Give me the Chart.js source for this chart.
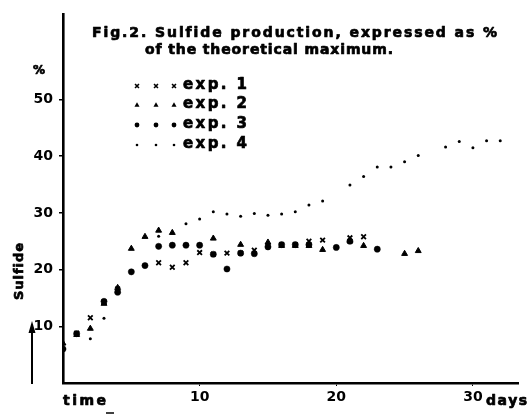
<!DOCTYPE html>
<html>
<head>
<meta charset="utf-8">
<title>Fig.2 Sulfide production</title>
<script src="https://cdn.jsdelivr.net/npm/chart.js@4.4.1/dist/chart.umd.min.js"></script>
<style>
  html, body { margin: 0; padding: 0; background: #fff; }
</style>
</head>
<body>
<canvas id="chart" width="530" height="414"></canvas>
<script>
// values (day, % of theoretical maximum)
var exp1Days = [1, 2, 3, 4, 7, 8, 9, 10, 11, 12, 13, 14, 15, 16, 17, 18, 19, 21, 22];
var exp1Values = [8.8, 11.5, 14.3, 16.6, 21.2, 20.4, 21.2, 23.0, 22.7, 22.9, 22.9, 23.4, 24.2, 24.4, 24.4, 25.0, 25.2, 25.6, 25.8];

var exp2Days = [0, 1, 2, 3, 4, 5, 6, 7, 8, 11, 13, 15, 16, 17, 18, 19, 21, 22, 25, 26];
var exp2Values = [7.0, 8.5, 9.6, 14.0, 16.8, 23.7, 25.8, 26.9, 26.5, 25.5, 24.4, 24.8, 24.2, 24.2, 24.2, 23.5, 25.0, 24.2, 22.8, 23.3];

var exp3Days = [0, 1, 3, 4, 5, 6, 7, 8, 9, 10, 11, 12, 13, 14, 15, 16, 17, 18, 20, 21, 23];
var exp3Values = [6.0, 8.7, 14.4, 16.0, 19.6, 20.7, 24.1, 24.3, 24.3, 24.3, 22.7, 20.1, 22.9, 22.8, 24.0, 24.4, 24.4, 24.4, 23.9, 25.0, 23.6];

var exp4Days = [2, 3, 7, 9, 10, 11, 12, 13, 14, 15, 16, 17, 18, 19, 21, 22, 23, 24, 25, 26, 28, 29, 30, 31, 32];
var exp4Values = [7.8, 11.4, 25.9, 28.1, 28.9, 30.2, 29.8, 29.4, 29.9, 29.6, 29.8, 30.2, 31.4, 32.1, 34.9, 36.4, 38.1, 38.1, 39.0, 40.1, 41.6, 42.6, 41.5, 42.7, 42.7];

var seriesNames = ['exp. 1', 'exp. 2', 'exp. 3', 'exp. 4'];
var xTickLabels = [10, 20, 30];
var yTickLabels = [10, 20, 30, 40, 50];

var FONT = '"DejaVu Sans", "Liberation Sans", sans-serif';

function toPoints(days, values) {
  var pts = [];
  for (var i = 0; i < days.length; i++) {
    pts.push({ x: days[i], y: values[i] });
  }
  return pts;
}

// draws text char by char so it fills a given width (the old typewriter spacing)
function spacedText(ctx, text, x, y, width, font) {
  ctx.font = font;
  var total = 0;
  for (var i = 0; i < text.length; i++) {
    total += ctx.measureText(text[i]).width;
  }
  var gap = text.length > 1 ? (width - total) / (text.length - 1) : 0;
  var cx = x;
  ctx.lineWidth = 0.7;
  ctx.lineJoin = 'round';
  for (var j = 0; j < text.length; j++) {
    ctx.fillText(text[j], cx, y);
    ctx.strokeText(text[j], cx, y); // heavier ink
    cx += ctx.measureText(text[j]).width + gap;
  }
}

function drawMarker(ctx, style, x, y, r) {
  ctx.beginPath();
  if (style === 'crossRot') {
    ctx.lineWidth = 1.6;
    ctx.moveTo(x - r * 0.7, y - r * 0.7);
    ctx.lineTo(x + r * 0.7, y + r * 0.7);
    ctx.moveTo(x + r * 0.7, y - r * 0.7);
    ctx.lineTo(x - r * 0.7, y + r * 0.7);
    ctx.stroke();
  } else if (style === 'triangle') {
    ctx.moveTo(x, y - r);
    ctx.lineTo(x + r * 0.9, y + r * 0.6);
    ctx.lineTo(x - r * 0.9, y + r * 0.6);
    ctx.closePath();
    ctx.fill();
  } else {
    ctx.arc(x, y, r, 0, Math.PI * 2);
    ctx.fill();
  }
}

var legendStyles = [['crossRot', 2.8], ['triangle', 2.8], ['circle', 2.4], ['circle', 1.3]];

var paperText = {
  id: 'paperText',
  afterDraw: function(chart) {
    var ctx = chart.ctx;
    ctx.save();
    ctx.fillStyle = '#000';
    ctx.strokeStyle = '#000';
    ctx.textBaseline = 'alphabetic';
    ctx.textAlign = 'left';

    // title
    spacedText(ctx, 'Fig.2. Sulfide production, expressed as %', 92, 37, 405, 'bold 14px ' + FONT);
    spacedText(ctx, 'of the theoretical maximum.', 145, 54, 248, 'bold 14px ' + FONT);

    // legend
    var rowY = [88, 107, 127, 147];
    for (var i = 0; i < seriesNames.length; i++) {
      var st = legendStyles[i];
      drawMarker(ctx, st[0], 137, rowY[i] - 2, st[1]);
      drawMarker(ctx, st[0], 156, rowY[i] - 2, st[1]);
      drawMarker(ctx, st[0], 174, rowY[i] - 2, st[1]);
      spacedText(ctx, seriesNames[i], 183, rowY[i] + 1, 64, 'bold 15px ' + FONT);
    }

    // y unit and rotated label
    spacedText(ctx, '%', 33, 74, 10, 'bold 12px ' + FONT);
    ctx.save();
    ctx.translate(23, 300);
    ctx.rotate(-Math.PI / 2);
    spacedText(ctx, 'Sulfide', 0, 0, 57, 'bold 13px ' + FONT);
    ctx.restore();

    // arrow next to the y axis
    ctx.lineWidth = 2;
    ctx.beginPath();
    ctx.moveTo(32, 384);
    ctx.lineTo(32, 330);
    ctx.stroke();
    ctx.beginPath();
    ctx.moveTo(32, 321);
    ctx.lineTo(35.5, 333);
    ctx.lineTo(28.5, 333);
    ctx.closePath();
    ctx.fill();

    // x axis words
    spacedText(ctx, 'time', 63, 405, 43, 'bold 14px ' + FONT);
    spacedText(ctx, 'days', 486, 405, 41, 'bold 14px ' + FONT);
    ctx.lineWidth = 1.5;
    ctx.beginPath();
    ctx.moveTo(106, 413);
    ctx.lineTo(114, 413);
    ctx.stroke();

    ctx.restore();
  }
};

var data = {
  datasets: [
    {
      label: seriesNames[0],
      data: toPoints(exp1Days, exp1Values),
      pointStyle: 'crossRot',
      pointRadius: 3.3,
      borderWidth: 1.8,
      borderColor: '#000',
      backgroundColor: '#000'
    },
    {
      label: seriesNames[1],
      data: toPoints(exp2Days, exp2Values),
      pointStyle: 'triangle',
      pointRadius: 3.4,
      borderWidth: 1,
      borderColor: '#000',
      backgroundColor: '#000'
    },
    {
      label: seriesNames[2],
      data: toPoints(exp3Days, exp3Values),
      pointStyle: 'circle',
      pointRadius: 3.1,
      borderWidth: 0.5,
      borderColor: '#000',
      backgroundColor: '#000'
    },
    {
      label: seriesNames[3],
      data: toPoints(exp4Days, exp4Values),
      pointStyle: 'circle',
      pointRadius: 1.5,
      borderWidth: 0,
      borderColor: '#000',
      backgroundColor: '#000'
    }
  ]
};

function keepTicks(list) {
  return function(scale) {
    scale.ticks = list.map(function(v) { return { value: v }; });
  };
}

var ctx = document.getElementById('chart').getContext('2d');
var sulfideChart = new Chart(ctx, {
  type: 'scatter',
  data: data,
  plugins: [paperText],
  options: {
    responsive: false,
    animation: false,
    showLine: false,
    layout: { padding: { top: 13, right: 12, left: 0, bottom: 0 } },
    plugins: {
      legend: { display: false },
      tooltip: { enabled: false }
    },
    scales: {
      x: {
        type: 'linear',
        min: 0,
        max: 33.3,
        afterBuildTicks: keepTicks(xTickLabels),
        afterFit: function(scale) { scale.height = 31; },
        border: { display: true, color: '#000', width: 2.6 },
        grid: {
          drawOnChartArea: false,
          drawTicks: true,
          tickLength: 3,
          tickColor: '#000'
        },
        ticks: {
          autoSkip: false,
          maxRotation: 0,
          padding: 3,
          color: '#000',
          font: { family: FONT, size: 14, weight: 'bold' }
        }
      },
      y: {
        type: 'linear',
        min: 0,
        max: 65,
        afterBuildTicks: keepTicks(yTickLabels),
        afterFit: function(scale) { scale.width = 63; },
        border: { display: true, color: '#000', width: 2.6 },
        grid: {
          drawOnChartArea: false,
          drawTicks: true,
          tickLength: 4,
          lineWidth: 1.5,
          tickColor: '#000'
        },
        ticks: {
          padding: 6,
          color: '#000',
          font: { family: FONT, size: 14, weight: 'bold' }
        }
      }
    }
  }
});
</script>
</body>
</html>
